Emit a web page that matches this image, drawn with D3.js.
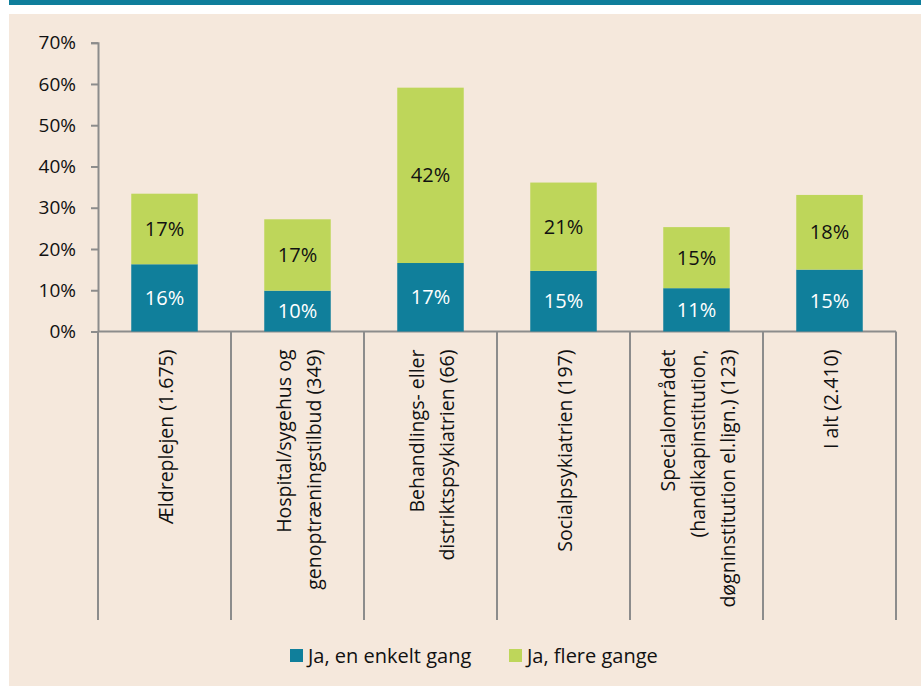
<!DOCTYPE html>
<html>
<head>
<meta charset="utf-8">
<script src="https://cdn.jsdelivr.net/npm/d3@7"></script>
<style>
  body { margin: 0; background: #ffffff; }
  text { font-family: "Open Sans", "Noto Sans", sans-serif; }
</style>
</head>
<body>
<div id="chart"></div>
<script>
// data
var categories = [
  ["Ældreplejen (1.675)"],
  ["Hospital/sygehus og", "genoptræningstilbud (349)"],
  ["Behandlings- eller", "distriktspsykiatrien (66)"],
  ["Socialpsykiatrien (197)"],
  ["Specialområdet", "(handikapinstitution,", "døgninstitution el.lign.) (123)"],
  ["I alt (2.410)"]
];
var enkelt = [16.3, 9.9, 16.6, 14.7, 10.5, 15.0];
var flere = [17.1, 17.3, 42.5, 21.4, 14.8, 18.1];
var enkeltLabels = ["16%", "10%", "17%", "15%", "11%", "15%"];
var flereLabels = ["17%", "17%", "42%", "21%", "15%", "18%"];
var yTicks = [0, 10, 20, 30, 40, 50, 60, 70];
var seriesNames = ["Ja, en enkelt gang", "Ja, flere gange"];
var colors = ["#107f9b", "#bed65a"];

var W = 921, H = 686;
var margin = { top: 42.7, left: 98, right: 25, bottom: 354.5 };
var width = W - margin.left - margin.right,
  height = H - margin.top - margin.bottom;

var svg = d3
  .select("#chart")
  .append("svg")
  .attr("width", W)
  .attr("height", H);

// page background: teal band, white strip, beige panel
svg.append("rect").attr("x", 9).attr("y", 0).attr("width", W - 9).attr("height", 5).style("fill", "#0f7e9b");
svg.append("rect").attr("x", 9).attr("y", 14).attr("width", W - 9).attr("height", H - 14).style("fill", "#f5e8dc");

var g = svg.append("g").attr("transform", `translate(${margin.left},${margin.top})`);

var idx = d3.range(categories.length);
var x = d3.scaleBand().domain(idx).range([0, width]).padding(0);
var y = d3.scaleLinear().domain([0, 70]).range([height, 0]);

// y axis
var yAxis = d3
  .axisLeft(y)
  .tickValues(yTicks)
  .tickSize(7)
  .tickPadding(15)
  .tickFormat(function (d) {
    return d + "%";
  });
var ya = g.append("g").call(yAxis);
ya.select(".domain").attr("d", "M-7,0.5H0.5V" + height).style("stroke", "#8c8c8c").style("stroke-width", 2);
ya.selectAll(".tick line").style("stroke", "#8c8c8c").style("stroke-width", 2);
ya.selectAll(".tick text").style("font-size", "19px").style("fill", "#111");

// x axis line and dividers
g.append("line")
  .attr("x1", 0)
  .attr("x2", width)
  .attr("y1", height)
  .attr("y2", height)
  .style("stroke", "#8c8c8c")
  .style("stroke-width", 2);
g.selectAll(".divider")
  .data(idx.concat([categories.length]))
  .enter()
  .append("line")
  .attr("class", "divider")
  .attr("x1", function (d) { return d < categories.length ? x(d) : width; })
  .attr("x2", function (d) { return d < categories.length ? x(d) : width; })
  .attr("y1", height)
  .attr("y2", 620 - margin.top)
  .style("stroke", "#8c8c8c")
  .style("stroke-width", 2);

// bars
var barW = x.bandwidth() / 2;
function barX(i) {
  return x(i) + (x.bandwidth() - barW) / 2;
}
g.selectAll(".bar0")
  .data(idx)
  .enter()
  .append("rect")
  .attr("x", barX)
  .attr("width", barW)
  .attr("y", function (i) { return y(enkelt[i]); })
  .attr("height", function (i) { return y(0) - y(enkelt[i]); })
  .style("fill", colors[0]);
g.selectAll(".bar1")
  .data(idx)
  .enter()
  .append("rect")
  .attr("x", barX)
  .attr("width", barW)
  .attr("y", function (i) { return y(enkelt[i] + flere[i]); })
  .attr("height", function (i) { return y(enkelt[i]) - y(enkelt[i] + flere[i]); })
  .style("fill", colors[1]);

// value labels
g.selectAll(".lab0")
  .data(idx)
  .enter()
  .append("text")
  .attr("x", function (i) { return x(i) + x.bandwidth() / 2; })
  .attr("y", function (i) { return y(enkelt[i] / 2); })
  .attr("dy", "0.35em")
  .attr("text-anchor", "middle")
  .style("font-size", "20px")
  .style("fill", "#ffffff")
  .text(function (i) { return enkeltLabels[i]; });
g.selectAll(".lab1")
  .data(idx)
  .enter()
  .append("text")
  .attr("x", function (i) { return x(i) + x.bandwidth() / 2; })
  .attr("y", function (i) { return y(enkelt[i] + flere[i] / 2); })
  .attr("dy", "0.35em")
  .attr("text-anchor", "middle")
  .style("font-size", "20px")
  .style("fill", "#111")
  .text(function (i) { return flereLabels[i]; });

// rotated category labels
var lineGap = 30;
idx.forEach(function (i) {
  var lines = categories[i];
  var cx = x(i) + x.bandwidth() / 2 + 2;
  lines.forEach(function (t, k) {
    var off = (k - (lines.length - 1) / 2) * lineGap;
    g.append("text")
      .attr("transform", "translate(" + (cx + off) + "," + (height + 18) + ") rotate(-90)")
      .attr("text-anchor", "end")
      .attr("dy", "0.35em")
      .style("font-size", "19.5px")
      .style("fill", "#111")
      .text(t);
  });
});

// legend
var legendX = [290, 509];
seriesNames.forEach(function (name, k) {
  svg.append("rect")
    .attr("x", legendX[k])
    .attr("y", 649)
    .attr("width", 13)
    .attr("height", 13)
    .style("fill", colors[k]);
  svg.append("text")
    .attr("x", legendX[k] + 18)
    .attr("y", 663)
    .style("font-size", "20px")
    .style("fill", "#111")
    .text(name);
});
</script>
</body>
</html>
